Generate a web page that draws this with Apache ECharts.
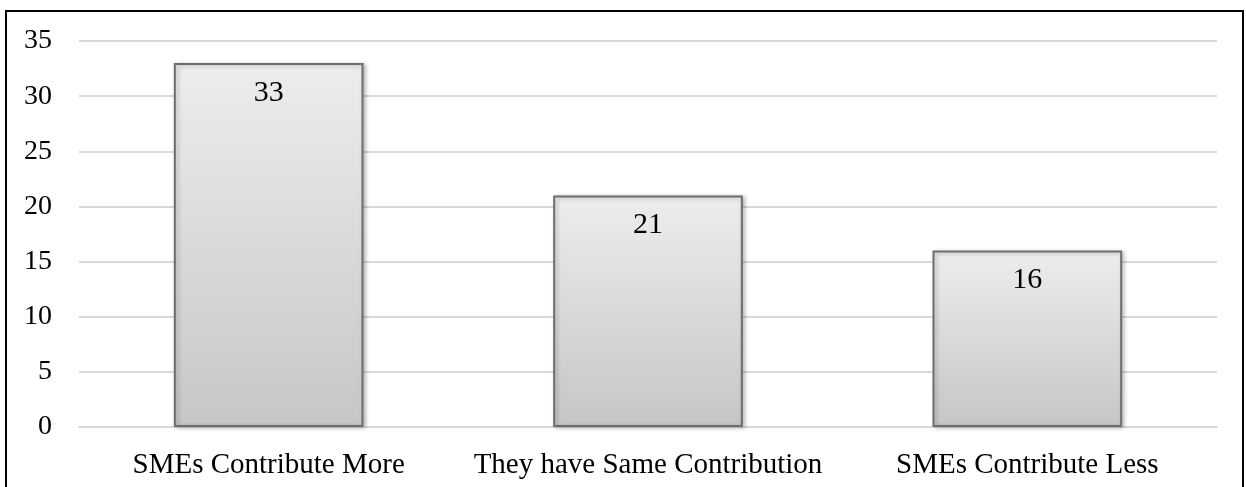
<!DOCTYPE html>
<html>
<head>
<meta charset="utf-8">
<script src="https://cdn.jsdelivr.net/npm/echarts@6/dist/echarts.min.js"></script>
<style>
  html, body { margin: 0; padding: 0; background: #ffffff; }
  #frame {
    position: absolute; left: 5px; top: 10px; width: 1239px; height: 500px;
    border: 2px solid #000; border-bottom: none; box-sizing: border-box;
  }
  #chart { position: absolute; left: 0; top: 0; width: 1246px; height: 487px; }
</style>
</head>
<body>
<div id="frame"></div>
<div id="chart"></div>
<script>
const categories = ['SMEs Contribute More', 'They have Same Contribution', 'SMEs Contribute Less'];
const responses = [33, 21, 16];
const yTicks = { min: 0, max: 35, interval: 5 };

const FONT = '"Liberation Serif", "Times New Roman", serif';

const chart = echarts.init(document.getElementById('chart'), null, { renderer: 'canvas' });
chart.setOption({
  animation: false,
  backgroundColor: 'transparent',
  grid: { left: 79, right: 29, top: 41, bottom: 60, containLabel: false },
  xAxis: {
    type: 'category',
    data: categories,
    axisLine: { show: true, lineStyle: { color: '#d9d9d9', width: 2 } },
    axisTick: { show: false },
    axisLabel: {
      interval: 0, hideOverlap: false,
      color: '#000', fontFamily: FONT, fontSize: 29, margin: 24
    }
  },
  yAxis: {
    type: 'value',
    min: yTicks.min, max: yTicks.max, interval: yTicks.interval,
    axisLine: { show: false },
    axisTick: { show: false },
    splitLine: { lineStyle: { color: '#d9d9d9', width: 2 } },
    axisLabel: { color: '#000', fontFamily: FONT, fontSize: 28, margin: 27 }
  },
  series: [{
    type: 'bar',
    data: responses,
    barWidth: '50%',
    itemStyle: {
      color: new echarts.graphic.LinearGradient(0, 0, 0, 1, [
        { offset: 0, color: '#ededed' },
        { offset: 1, color: '#c6c6c6' }
      ]),
      borderColor: '#6e6e6e',
      borderWidth: 2,
      shadowColor: 'rgba(0,0,0,0.25)',
      shadowBlur: 4,
      shadowOffsetX: 2,
      shadowOffsetY: 1
    },
    label: {
      show: true,
      position: 'insideTop',
      distance: 15,
      color: '#000',
      fontFamily: FONT,
      fontSize: 30
    }
  }]
});
</script>
</body>
</html>
